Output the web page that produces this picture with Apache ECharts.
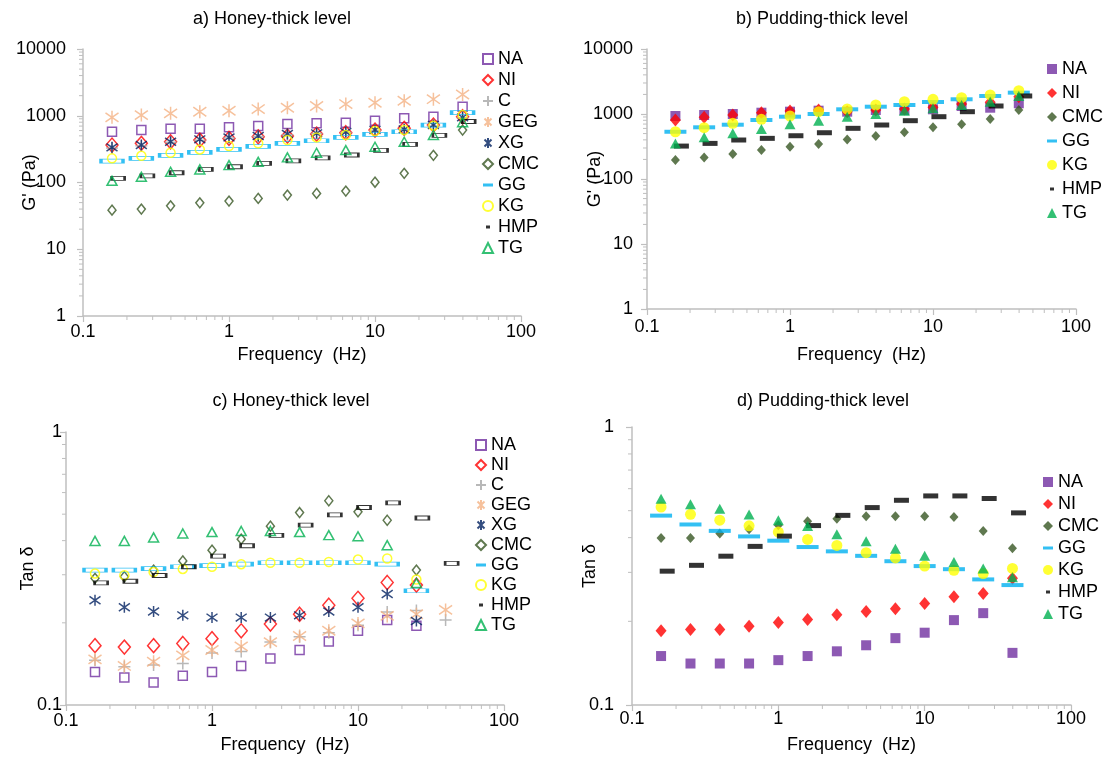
<!DOCTYPE html>
<html>
<head>
<meta charset="utf-8">
<script src="https://cdn.jsdelivr.net/npm/echarts@6/dist/echarts.min.js"></script>
<style>
  html, body { margin: 0; padding: 0; background: #fff; }
  #chart { width: 1114px; height: 762px; }
</style>
</head>
<body>
<div id="chart"></div>
<script>
// frequencies (Hz); HMP was measured a touch to the right
var freq = [0.158, 0.251, 0.398, 0.631, 1, 1.585, 2.512, 3.981, 6.31, 10, 15.85, 25.12, 39.81];
var freqHmp = [0.174, 0.276, 0.438, 0.694, 1.1, 1.74, 2.76, 4.38, 6.94, 11, 17.4, 27.6, 43.8];

var xRange = [0.1, 100];
var gpRange = [1, 10000];
var tanRange = [0.1, 1];

// a) G' honey-thick
var aNA  = [575, 610, 639, 639, 670, 701, 751, 769, 785, 841, 914, 970, 1364];
var aNI  = [364, 386, 408, 432, 458, 484, 496, 532, 556, 610, 647, 726, 966];
var aC   = [330, 355, 400, 430, 465, 490, 520, 540, 560, 600, 620, 700, 930];
var aGEG = [946, 1024, 1086, 1148, 1188, 1260, 1318, 1398, 1497, 1566, 1679, 1770, 2080];
var aXG  = [336, 364, 408, 443, 474, 496, 532, 545, 570, 610, 625, 726, 946];
var aCMC = [38.5, 40, 44.7, 49.6, 52.6, 57.8, 64.7, 68.7, 74.3, 101, 137, 255, 610];
var aGG  = [209, 230, 255, 283, 313, 348, 386, 422, 474, 526, 575, 725, 1115];
var aKG  = [230, 251, 279, 313, 351, 386, 432, 474, 514, 590, 610, 710, 1024];
var aHMP = [115, 126, 140, 157, 172, 193, 211, 234, 258, 303, 372, 507, 820];
var aTG  = [106, 122, 145, 157, 182, 204, 238, 279, 306, 343, 408, 514, 800];

// b) G' pudding-thick
var bNA  = [932, 965, 1000, 1047, 1085, 1124, 1085, 1152, 1152, 1181, 1328, 1250, 1462];
var bNI  = [809, 889, 966, 1047, 1112, 1152, 1085, 1152, 1194, 1268, 1426, 1514, 1850];
var bCMC = [196, 215, 242, 279, 313, 345, 407, 458, 522, 624, 693, 837, 1152];
var bGG  = [533, 624, 684, 809, 909, 1000, 1181, 1295, 1376, 1530, 1684, 1894, 2130];
var bKG  = [533, 615, 719, 828, 932, 1085, 1194, 1376, 1547, 1684, 1783, 1962, 2286];
var bHMP = [321, 353, 398, 422, 463, 515, 602, 677, 789, 909, 1085, 1328, 1894];
var bTG  = [353, 438, 504, 587, 693, 789, 909, 1000, 1124, 1224, 1376, 1547, 1894];

// c) tan delta honey-thick
var cNA  = [0.132, 0.126, 0.121, 0.128, 0.132, 0.139, 0.148, 0.159, 0.171, 0.187, 0.205, 0.195];
var cNI  = [0.165, 0.163, 0.165, 0.168, 0.175, 0.187, 0.198, 0.215, 0.232, 0.246, 0.281, 0.275];
var cC   = [0.146, 0.138, 0.14, 0.142, 0.155, 0.157, 0.17, 0.178, 0.184, 0.196, 0.219, 0.222, 0.205];
var cGEG = [0.147, 0.139, 0.144, 0.152, 0.159, 0.164, 0.17, 0.179, 0.187, 0.199, 0.212, 0.215, 0.223];
var cXG  = [0.242, 0.228, 0.22, 0.213, 0.209, 0.209, 0.209, 0.213, 0.22, 0.228, 0.255, 0.203];
var cCMC = [0.291, 0.295, 0.312, 0.337, 0.369, 0.405, 0.452, 0.507, 0.56, 0.51, 0.475, 0.312];
var cGG  = [0.312, 0.312, 0.316, 0.321, 0.324, 0.328, 0.332, 0.332, 0.332, 0.332, 0.328, 0.262];
var cKG  = [0.303, 0.299, 0.307, 0.315, 0.321, 0.328, 0.332, 0.332, 0.334, 0.341, 0.344, 0.288];
var cHMP = [0.28, 0.284, 0.298, 0.321, 0.351, 0.383, 0.418, 0.456, 0.497, 0.529, 0.55, 0.484, 0.33];
var cTG  = [0.399, 0.399, 0.411, 0.425, 0.43, 0.434, 0.434, 0.43, 0.419, 0.415, 0.385, 0.28];

// d) tan delta pudding-thick
var dNA  = [0.15, 0.141, 0.141, 0.141, 0.145, 0.15, 0.156, 0.164, 0.174, 0.182, 0.202, 0.214, 0.154];
var dNI  = [0.185, 0.187, 0.187, 0.192, 0.198, 0.203, 0.211, 0.217, 0.222, 0.232, 0.245, 0.252, 0.286];
var dCMC = [0.399, 0.399, 0.414, 0.429, 0.443, 0.458, 0.468, 0.477, 0.477, 0.477, 0.475, 0.423, 0.366];
var dGG  = [0.48, 0.446, 0.423, 0.404, 0.39, 0.37, 0.357, 0.344, 0.329, 0.316, 0.308, 0.283, 0.27];
var dKG  = [0.515, 0.485, 0.462, 0.441, 0.419, 0.394, 0.375, 0.353, 0.338, 0.316, 0.305, 0.297, 0.31];
var dHMP = [0.303, 0.318, 0.343, 0.372, 0.405, 0.442, 0.481, 0.513, 0.545, 0.565, 0.565, 0.553, 0.491];
var dTG  = [0.552, 0.527, 0.508, 0.484, 0.462, 0.44, 0.411, 0.388, 0.365, 0.344, 0.327, 0.31, 0.288];

var FONT = '"Liberation Sans", Arial, sans-serif';
var AXIS_GREY = '#bfbfbf';
var PLUS = 'path://M5,0L5,10M0,5L10,5';
var STAR = 'path://M1.5,1.5L8.5,8.5M8.5,1.5L1.5,8.5M5,0L5,10';

var colors = {
    NA: '#7030A0', NI: '#FF0000', C: '#A6A6A6', GEG: '#F4B183', XG: '#002060',
    CMC: '#375623', GG: '#00B0F0', KG: '#FFFF00', HMP: '#000000', TG: '#00B050'
};
// open markers (a, c)
var openSym = {
    NA: ['rect', 9], NI: ['diamond', [12, 14]], C: [PLUS, 12], GEG: [STAR, 13], XG: [STAR, 11],
    CMC: ['diamond', [8, 10]], GG: ['rect', [22, 4]], KG: ['circle', 9], HMP: ['rect', [13, 4]],
    TG: ['triangle', [10, 9]]
};
// filled markers (b, d)
var fullSym = {
    NA: ['rect', 10], NI: ['diamond', [11, 13]], CMC: ['diamond', [9, 10]], GG: ['rect', [22, 4]],
    KG: ['circle', 11], HMP: ['rect', [15, 5]], TG: ['triangle', [11, 10]]
};

var panels = [
    { id: 'a', open: true, y: gpRange, data: { NA: aNA, NI: aNI, C: aC, GEG: aGEG, XG: aXG, CMC: aCMC, GG: aGG, KG: aKG, HMP: aHMP, TG: aTG } },
    { id: 'b', open: false, y: gpRange, data: { NA: bNA, NI: bNI, CMC: bCMC, GG: bGG, KG: bKG, HMP: bHMP, TG: bTG } },
    { id: 'c', open: true, y: tanRange, data: { NA: cNA, NI: cNI, C: cC, GEG: cGEG, XG: cXG, CMC: cCMC, GG: cGG, KG: cKG, HMP: cHMP, TG: cTG } },
    { id: 'd', open: false, y: tanRange, data: { NA: dNA, NI: dNI, CMC: dCMC, GG: dGG, KG: dKG, HMP: dHMP, TG: dTG } }
];

var grids = [
    { left: 83, top: 49, width: 438, height: 267 },
    { left: 647, top: 49, width: 429, height: 260 },
    { left: 66, top: 432, width: 438, height: 273 },
    { left: 632, top: 427, width: 439, height: 278 }
];
var yNames = ["G' (Pa)", "G' (Pa)", 'Tan δ', 'Tan δ'];
var yNameGap = [44, 43, 29, 33];
var yLabelMargin = [17, 14, 4, 18];
var xNameGap = [30, 37, 31, 31];
var xLabelMargin = [7, 9, 7, 5];
var legendPos = [
    { left: 482, top: 50, itemGap: 3 },
    { left: 1047, top: 60, itemGap: 6 },
    { left: 475, top: 436, itemGap: 2 },
    { left: 1043, top: 473, itemGap: 4 }
];
var titles = [
    ['a) Honey-thick level', 272, 19],
    ['b) Pudding-thick level', 822, 19],
    ['c) Honey-thick level', 291, 401],
    ['d) Pudding-thick level', 823, 401]
];

function pts(xs, ys) {
    var out = [];
    for (var i = 0; i < ys.length; i++) out.push([xs[i], ys[i]]);
    return out;
}
function fmt(v) { return String(+v.toPrecision(4)); }

var xAxes = [], yAxes = [], series = [], legends = [];
panels.forEach(function (p, gi) {
    xAxes.push({
        type: 'log', logBase: 10, gridIndex: gi, min: xRange[0], max: xRange[1],
        name: 'Frequency  (Hz)', nameLocation: 'middle', nameGap: xNameGap[gi], nameMoveOverlap: false,
        nameTextStyle: { fontSize: 18, color: '#000', fontFamily: FONT },
        axisLine: { onZero: false, lineStyle: { color: AXIS_GREY, width: 1.5 } },
        axisTick: { length: 6, lineStyle: { color: AXIS_GREY, width: 1.2 } },
        axisLabel: { fontSize: 18, color: '#000', fontFamily: FONT, margin: xLabelMargin[gi], formatter: fmt },
        splitLine: { show: false }
    });
    yAxes.push({
        type: 'log', logBase: 10, gridIndex: gi, min: p.y[0], max: p.y[1],
        name: yNames[gi], nameLocation: 'middle', nameGap: yNameGap[gi], nameRotate: 90, nameMoveOverlap: false,
        nameTextStyle: { fontSize: 18, color: '#000', fontFamily: FONT },
        axisLine: { onZero: false, lineStyle: { color: AXIS_GREY, width: 1.5 } },
        axisTick: { length: 6, lineStyle: { color: AXIS_GREY, width: 1.2 } },
        axisLabel: { fontSize: 18, color: '#000', fontFamily: FONT, margin: yLabelMargin[gi], formatter: fmt },
        splitLine: { show: false }
    });

    var names = Object.keys(p.data);
    var legendData = [];
    names.forEach(function (n) {
        var sym = p.open ? openSym[n] : fullSym[n];
        var c = colors[n];
        var isLine = sym[0] === PLUS || sym[0] === STAR;
        var style;
        if (isLine) style = { color: 'rgba(0,0,0,0)', borderColor: c, borderWidth: 1.5 };
        else if (p.open) style = { color: 'rgba(255,255,255,0)', borderColor: c, borderWidth: 1.5 };
        else style = { color: c, borderWidth: 0 };
        series.push({
            type: 'scatter',
            name: p.id + ':' + n,
            xAxisIndex: gi, yAxisIndex: gi,
            symbol: sym[0], symbolSize: sym[1],
            itemStyle: style,
            data: pts(n === 'HMP' ? freqHmp : freq, p.data[n]),
            silent: true
        });
        var item = { name: p.id + ':' + n };
        if (n === 'GG') {
            item.icon = 'path://M0,0M10,10M0,3.5h10v3h-10z';
            item.itemStyle = { color: c, borderWidth: 0 };
        } else if (n === 'HMP') {
            item.icon = 'path://M0,0M10,10M3,3.5h4v3h-4z';
            item.itemStyle = { color: c, borderWidth: 0 };
        }
        legendData.push(item);
    });
    legends.push({
        data: legendData,
        orient: 'vertical',
        left: legendPos[gi].left, top: legendPos[gi].top, itemGap: legendPos[gi].itemGap,
        itemWidth: 10, itemHeight: 10, padding: 0, selectedMode: false,
        textStyle: { fontSize: 18, color: '#000', fontFamily: FONT },
        formatter: function (name) { return name.split(':')[1]; }
    });
});

var graphics = titles.map(function (t, i) {
    return {
        type: 'text', id: 'title' + i, x: t[1], y: t[2], silent: true,
        style: { text: t[0], align: 'center', verticalAlign: 'middle', fontSize: 18, fontFamily: FONT, fill: '#000' }
    };
});

var chart = echarts.init(document.getElementById('chart'), null, { renderer: 'canvas' });
chart.setOption({
    animation: false,
    textStyle: { fontFamily: FONT },
    grid: grids,
    xAxis: xAxes,
    yAxis: yAxes,
    legend: legends,
    series: series,
    graphic: graphics
});

// minor ticks at 2..9 of every decade, placed through the axes' own scales
var ticks = [];
panels.forEach(function (p, gi) {
    var yBase = chart.convertToPixel({ yAxisIndex: gi }, p.y[0]);
    var xBase = chart.convertToPixel({ xAxisIndex: gi }, xRange[0]);
    for (var e = -1; e < 2; e++) {
        for (var m = 2; m < 10; m++) {
            var px = chart.convertToPixel({ xAxisIndex: gi }, m * Math.pow(10, e));
            ticks.push({ type: 'line', silent: true, shape: { x1: px, y1: yBase, x2: px, y2: yBase + 4 },
                style: { stroke: AXIS_GREY, lineWidth: 1 } });
        }
    }
    var e0 = Math.round(Math.log10(p.y[0])), e1 = Math.round(Math.log10(p.y[1]));
    for (var k = e0; k < e1; k++) {
        for (var mm = 2; mm < 10; mm++) {
            var py = chart.convertToPixel({ yAxisIndex: gi }, mm * Math.pow(10, k));
            ticks.push({ type: 'line', silent: true, shape: { x1: xBase - 4, y1: py, x2: xBase, y2: py },
                style: { stroke: AXIS_GREY, lineWidth: 1 } });
        }
    }
});
chart.setOption({ graphic: graphics.concat(ticks) });
</script>
</body>
</html>
